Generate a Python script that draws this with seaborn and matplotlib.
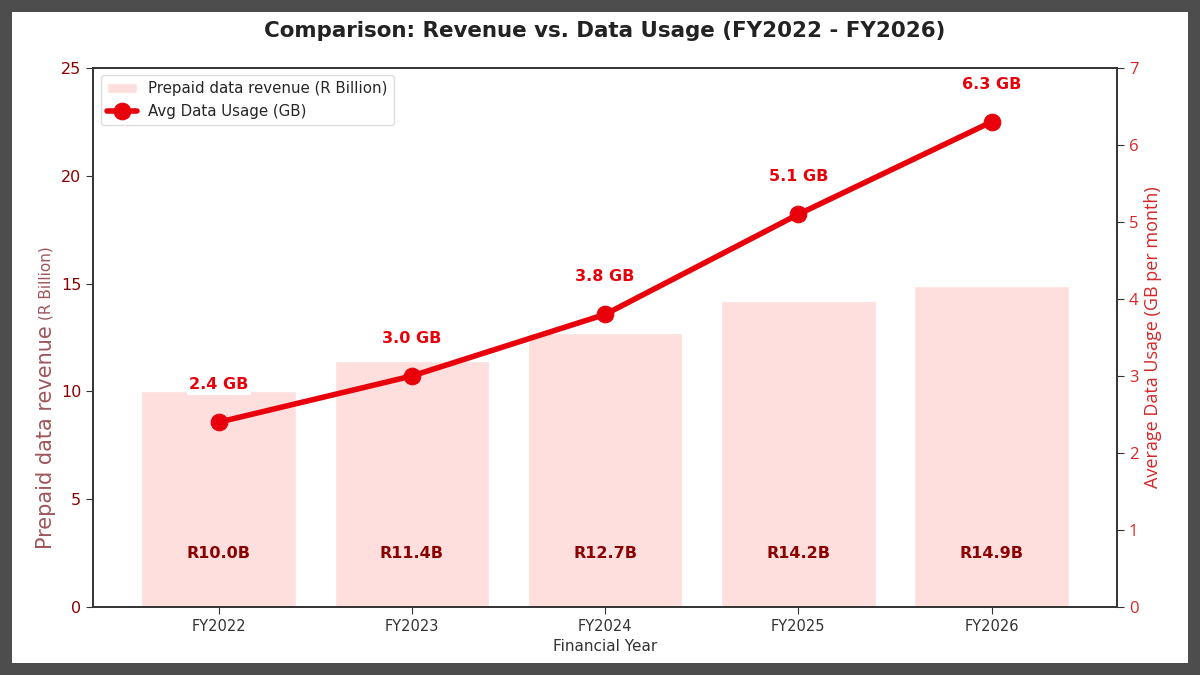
import numpy as np
import matplotlib
matplotlib.use("Agg")
import matplotlib.pyplot as plt
import seaborn as sns

# data
years = ["FY2022", "FY2023", "FY2024", "FY2025", "FY2026"]
revenue = [10.0, 11.4, 12.7, 14.2, 14.9]      # R Billion
usage = [2.4, 3.0, 3.8, 5.1, 6.3]             # GB per month

bar_col = "#ffdede"
line_col = "#e8000b"
dark_red = "#8b0000"

sns.set_style("ticks")
plt.rcParams['font.family'] = 'sans-serif'
plt.rcParams['font.sans-serif'] = ['DejaVu Sans']

fig = plt.figure(figsize=(12, 6.75), dpi=100)
fig.patch.set_facecolor("white")
fig.patch.set_edgecolor("#4d4d4d")
fig.patch.set_linewidth(17)
ax = fig.add_axes([0.0775, 0.1007, 0.8535, 0.7986])

sns.barplot(x=years, y=revenue, ax=ax, color=bar_col, saturation=1, width=0.8,
            label="Prepaid data revenue (R Billion)")
ax.set_ylim(0, 25)
ax.set_yticks(np.arange(0, 26, 5))
for i, v in enumerate(revenue):
    ax.text(i, 2.5, f"R{v:.1f}B", ha="center", va="center", fontsize=11.5,
            fontweight="bold", color=dark_red)

ax2 = ax.twinx()
xs = np.arange(len(years))
sns.lineplot(x=xs, y=usage, ax=ax2, color=line_col, linewidth=4, marker="o",
             markersize=12, markeredgecolor=line_col, label="Avg Data Usage (GB)")
ax2.set_ylim(0, 7)
for i, v in enumerate(usage):
    ax2.annotate(f"{v:.1f} GB", (i, v), xytext=(0, 27), textcoords="offset points",
                 ha="center", va="center", fontsize=11.5, fontweight="bold", color=line_col,
                 bbox=dict(boxstyle="square,pad=0.15", fc="white", ec="none"))

ax.set_xlim(-0.65, 4.65)

# axis styling
for a in (ax, ax2):
    for s in a.spines.values():
        s.set_color("#333333")
        s.set_linewidth(1.2)
ax.tick_params(axis="y", colors="#333333", labelcolor=dark_red, labelsize=11.5, length=5)
ax.tick_params(axis="x", colors="#333333", labelcolor="#333333", labelsize=10.5, length=5)
ax2.tick_params(axis="y", colors="#333333", labelcolor="#d62728", labelsize=12, length=5)
for t in ax2.get_yticklabels():
    t.set_fontfamily("Open Sans")

ax.set_xlabel("Financial Year", fontsize=11, color="#333333")
ax.set_ylabel("")
t1 = ax.text(-0.046, 0.108, "Prepaid data revenue", transform=ax.transAxes, rotation=90,
             ha="center", va="bottom", fontsize=15, color="#a0565a")
ax.annotate("(R Billion)", xy=(0.5, 1.0), xycoords=t1, xytext=(0, 4),
            textcoords="offset points", rotation=90, ha="center", va="bottom",
            fontsize=11, color="#a0565a")
ax2.set_ylabel("Average Data Usage (GB per month)", fontsize=13, color="#d62728",
               fontfamily="Open Sans", labelpad=4)

ax.set_title("Comparison: Revenue vs. Data Usage (FY2022 - FY2026)", fontsize=15.4,
             fontweight="bold", color="#222222", pad=22)

h1, l1 = ax.get_legend_handles_labels()
h2, l2 = ax2.get_legend_handles_labels()
if ax.get_legend() is not None:
    ax.get_legend().remove()
ax2.legend(h1 + h2, l1 + l2, loc="upper left", fontsize=10.8, frameon=True,
           framealpha=1, edgecolor="#dddddd")

fig.savefig("out.png", dpi=100)
